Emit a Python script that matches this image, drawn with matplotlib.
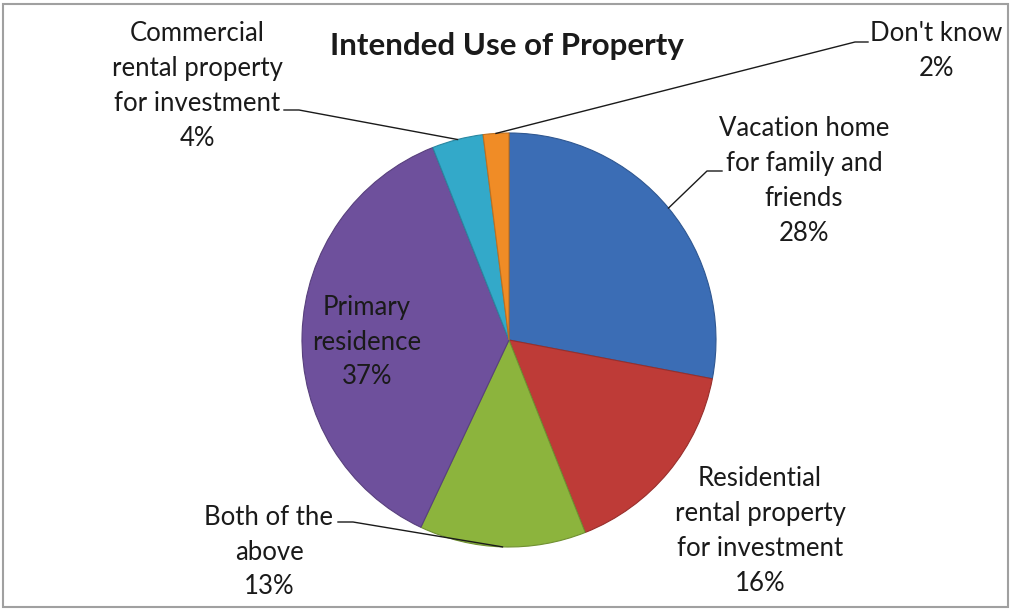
import matplotlib
matplotlib.use("Agg")
import numpy as np
import matplotlib.pyplot as plt
from matplotlib.patches import Rectangle

# data
categories = ["Vacation home\nfor family and\nfriends",
              "Residential\nrental property\nfor investment",
              "Both of the\nabove",
              "Primary\nresidence",
              "Commercial\nrental property\nfor investment",
              "Don't know"]
shares = [28, 16, 13, 37, 4, 2]
colors = ["#3B6DB5", "#BE3B37", "#8CB43D", "#6E509C", "#33A9C9", "#F08C26"]
title = "Intended Use of Property"

W, H = 1011, 609
CX, CY, R = 509, 340, 207

# label layout in pixels: (text centre x, text centre y, elbow start, elbow end)
layout = {
    0: ((804, 181), (722, 171), (707, 171)),
    1: ((760, 531), None, None),
    2: ((269, 552), (338, 522), (353, 522)),
    3: ((367, 342), None, None),
    4: ((197, 86), (284, 110), (299, 110)),
    5: ((936, 51), (868, 42), (855, 42)),
}

plt.rcParams["font.family"] = ["Lato", "DejaVu Sans"]

fig = plt.figure(figsize=(W / 100, H / 100), dpi=100)
ax = fig.add_axes([0, 0, 1, 1])

wedges, _ = ax.pie(shares, colors=colors, startangle=90, counterclock=False,
                   center=(CX, H - CY), radius=R,
                   wedgeprops=dict(linewidth=0.8))
for w, c in zip(wedges, colors):
    w.set_edgecolor(tuple(0.8 * np.array(matplotlib.colors.to_rgb(c))))

ax.set_xlim(0, W)
ax.set_ylim(0, H)
ax.set_aspect("equal")
ax.axis("off")

ax.add_patch(Rectangle((3, 2), W - 6, H - 6, fill=False, edgecolor="#A0A0A0", linewidth=1.5))

ax.text(507, H - 46, title, ha="center", va="center", fontsize=22.5, fontweight="bold",
        color="#1A1A1A")

for i, (cat, val, w) in enumerate(zip(categories, shares, wedges)):
    (tx, ty), p1, p2 = layout[i]
    ax.text(tx, H - ty, f"{cat}\n{val}%", ha="center", va="center", fontsize=18.5,
            color="#1A1A1A", linespacing=1.49)
    if p1 is None:
        continue
    mid = np.deg2rad((w.theta1 + w.theta2) / 2)
    ex = CX + R * np.cos(mid)
    ey = (H - CY) + R * np.sin(mid)
    ax.plot([p1[0], p2[0], ex], [H - p1[1], H - p2[1], ey], color="#1A1A1A", linewidth=1)

fig.savefig("out.png", dpi=100)
